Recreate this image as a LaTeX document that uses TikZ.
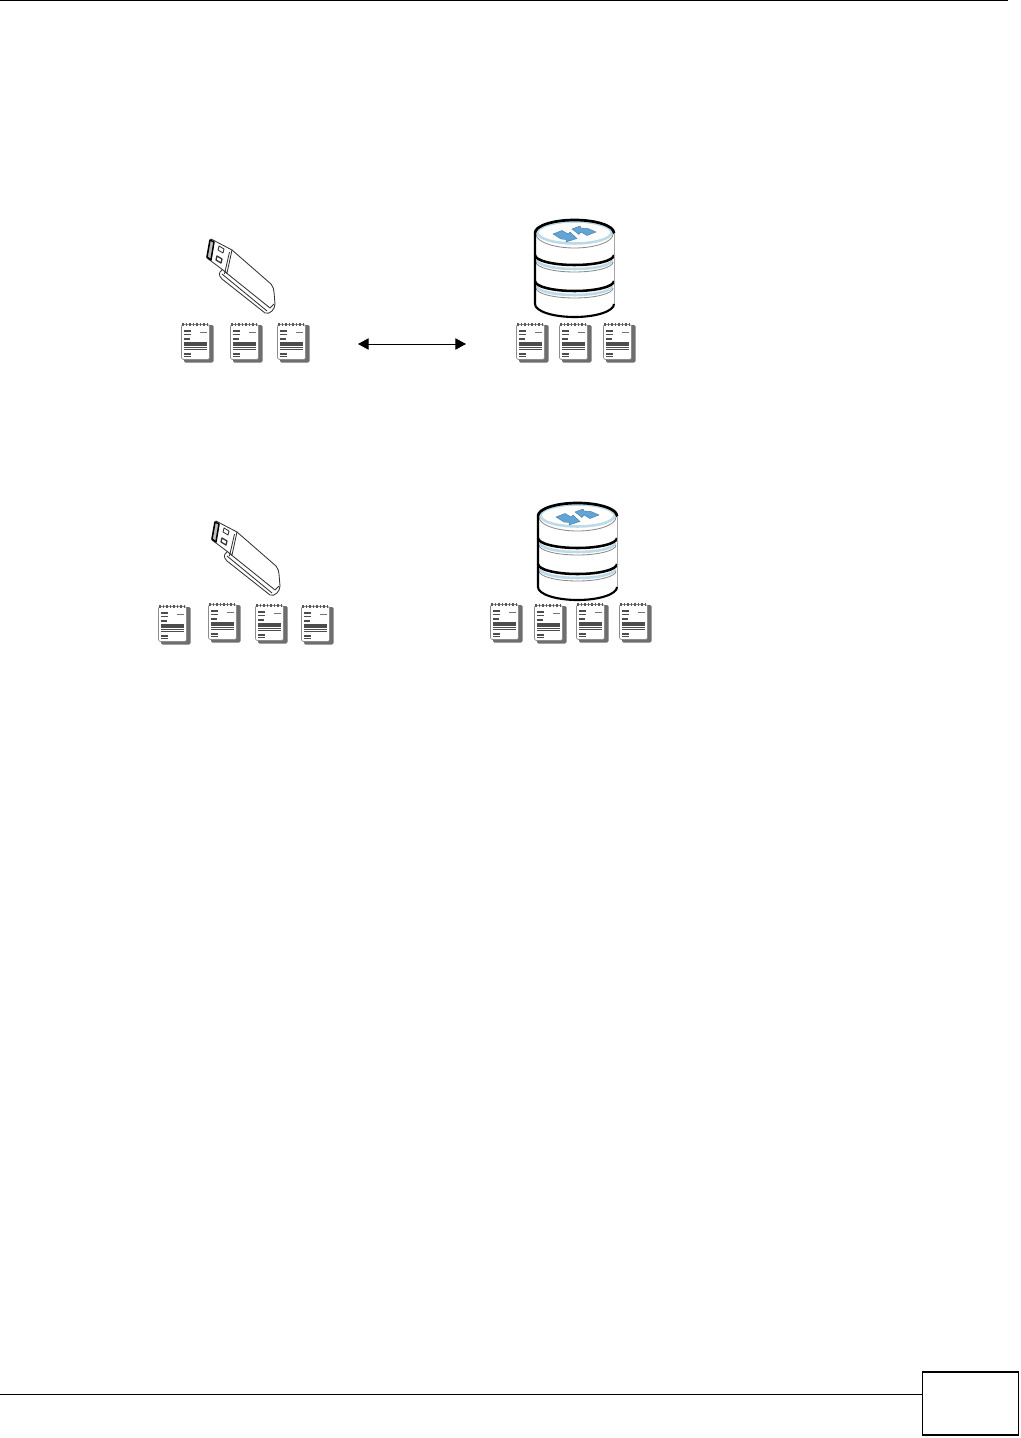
\documentclass[tikz,border=0pt]{standalone}
\usetikzlibrary{arrows.meta}
\definecolor{drumblue}{RGB}{188,218,232}
\definecolor{arrowblue}{RGB}{96,165,214}
\definecolor{notegray}{RGB}{110,110,110}
\begin{document}
\begin{tikzpicture}[x=0.025cm,y=-0.025cm]
\tikzset{
    >={Stealth[inset=0pt,length=7.5pt,width=8pt]},
    regua/.style={line width=0.7pt, black},
    troca/.style={<->, line width=0.7pt, black},
    notelinha/.style={line width=1.1pt, black!70},
    usbtraco/.style={line width=0.6pt, black!80, line join=round, fill=white},
    drumfio/.style={line width=1.8pt, black},
    drumcinza/.style={line width=0.6pt, black!45},
    drumazul/.style={line width=1.8pt, drumblue},
    seta/.style={fill=arrowblue, draw=arrowblue!70!black, line width=0.25pt},
    note/.pic={
        \fill[notegray, rounded corners=1pt] (3,2) rectangle (32.5,39.5);
        \draw[black!45, fill=white, rounded corners=1.5pt, line width=0.5pt] (0.5,1.5) rectangle (28.5,36.5);
        \foreach \xtick in {2,5.5,...,27}
            \draw[line width=1pt, black!65] (\xtick,0.3) -- (\xtick,2.8);
        \draw[notelinha] (3,8) -- (10,8);
        \draw[notelinha] (3,11.5) -- (10,11.5);
        \draw[notelinha] (3,16) -- (9,16);
        \draw[line width=0.7pt, black!55] (19,9) -- (25.5,9);
        \foreach \ylin in {20,22.2,24.4,26.6}
            \draw[notelinha] (3,\ylin) -- (25.5,\ylin);
        \draw[notelinha] (3,31) -- (10,31);
        \draw[notelinha] (3,33.6) -- (10,33.6);
    },
    usb/.pic={
        % corpo
        \draw[usbtraco] (232,250) -- (271,284) .. controls (273,287) and (274,289) .. (274,292)
            -- (275,304) .. controls (275,309) and (270,315) .. (265,313)
            -- (222,279) .. controls (218,275) and (219,272) .. (222,270) -- cycle;
        \draw[usbtraco, fill=none] (222,274) -- (267,311);
        \draw[usbtraco, fill=none] (224,271) -- (270,308) -- (274,304);
        % ponta
        \draw[usbtraco] (211,239) -- (232,250) -- (227,273) -- (207,258) -- cycle;
        \draw[usbtraco, line width=1.1pt, black, fill=black!25] (210,240) -- (214,242) -- (211,260) -- (207,257) -- cycle;
        \draw[usbtraco] (219,246) -- (224,249) -- (223,253) -- (218,250) -- cycle;
        \draw[usbtraco, line width=0.9pt] (217,256) -- (222,259) -- (221,263) -- (216,260) -- cycle;
        \draw[usbtraco, fill=none] (229.5,252) -- (224.5,274);
    },
    drum/.pic={
        \fill[white] (535,233) -- (535,304) arc[start angle=180, end angle=0, x radius=39.5, y radius=13]
            -- (614,233) -- cycle;
        % faixas
        \foreach \yfaixa in {260,286}
            \draw[drumazul] (537,\yfaixa) arc[start angle=180, end angle=0, x radius=37.5, y radius=9];
        \foreach \yfaixa in {262,288}
            \draw[drumcinza] (536,\yfaixa) arc[start angle=180, end angle=0, x radius=38.5, y radius=10];
        \draw[drumcinza] (536,234) arc[start angle=180, end angle=0, x radius=38.5, y radius=14];
        \foreach \yfaixa in {255,281}
            \draw[drumfio] (535,\yfaixa) arc[start angle=180, end angle=0, x radius=39.5, y radius=10];
        % tampa
        \draw[drumazul, fill=white] (574.5,232.5) ellipse[x radius=37, y radius=11];
        \draw[seta] (553,234) -- (562,230.5) -- (568,234) -- (570,232) -- (577,238.5) -- (566,242) -- (566.5,239.5) -- (561,239) -- cycle;
        \draw[seta] (572,229) -- (580,226) -- (581,228) -- (588,228.5) -- (596,232) -- (587,235.5) -- (581,232) -- (579,234.5) -- cycle;
        % contorno
        \draw[line width=1.9pt, black, line cap=round] (535,233) arc[start angle=180, end angle=360, x radius=39.5, y radius=13];
        \draw[line width=1.5pt, black] (535,233) -- (535,304) arc[start angle=180, end angle=0, x radius=39.5, y radius=13];
        \draw[line width=0.5pt, black!35] (614,233) -- (614,304);
    }
}
\useasboundingbox (0,0) rectangle (1020,1438);
% moldura da pagina
\coordinate (topoA) at (0,0.5);
\coordinate (topoB) at (1008,0.5);
\draw[regua] (topoA) -- (topoB);
\node[draw=black, line width=1.3pt, inner sep=0pt, minimum width=2.4cm, minimum height=1.57cm, anchor=south west] (pagina) at (921.5,1435.5) {};
\coordinate (rodape) at (0,1394.5);
\draw[regua] (rodape) -- (rodape -| pagina.west);
% linha de cima
\pic at (0,0) {usb};
\pic at (0,0) {drum};
\foreach \xpos in {181,230,277,516,559,603}
    \pic at (\xpos,323) {note};
\coordinate (trocaA) at (358,344);
\coordinate (trocaB) at (466,344);
\draw[troca] (trocaA) -- (trocaB);
% linha de baixo
\pic at (5,282) {usb};
\pic at (3,283) {drum};
\pic at (158,605) {note};
\pic at (208,603) {note};
\pic at (255,604) {note};
\pic at (301,605) {note};
\pic at (490,603) {note};
\pic at (534,604) {note};
\pic at (576,603) {note};
\pic at (619,603) {note};
\end{tikzpicture}
\end{document}
